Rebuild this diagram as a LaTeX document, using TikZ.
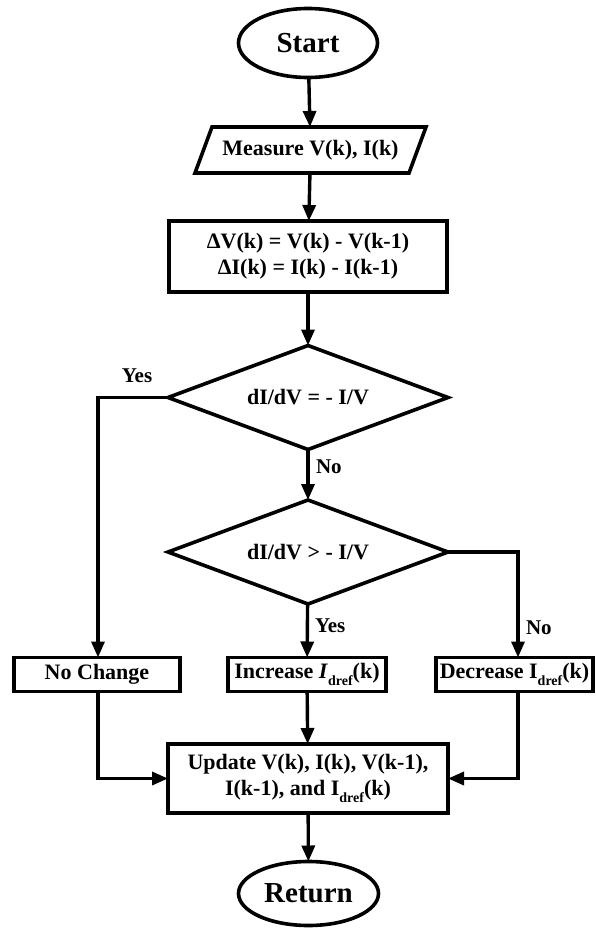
\documentclass[tikz,border=0pt]{standalone}
\usepackage{fontspec}
\setmainfont{Liberation Serif}
\usetikzlibrary{shapes.geometric,arrows.meta}
\newcommand{\dref}{\raisebox{-0.28em}{\fontsize{14}{14}\selectfont dref}}
\begin{document}
\begin{tikzpicture}[x=1pt,y=-1pt,
  every node/.style={font=\bfseries\fontsize{22}{26}\selectfont, inner sep=0pt, outer sep=0pt},
  ln/.style={line width=3.6pt},
  arr/.style={line width=3.4pt, -{Triangle[length=16pt,width=13pt]}},
  term/.style={ellipse, draw, line width=3.6pt, font=\bfseries\fontsize{29}{32}\selectfont},
  proc/.style={rectangle, draw, line width=3.6pt, align=center},
  dec/.style={diamond, draw, line width=3.6pt, aspect=2.7, minimum width=280pt, minimum height=104pt},
  lbl/.style={anchor=west}
]
\useasboundingbox (0,0) rectangle (595,928);

\node[term, minimum width=139pt, minimum height=69pt] (start) at (308,43) {Start};
\node[minimum width=214pt, minimum height=46pt] (meas) at (310.5,150) {Measure V(k), I(k)};
\draw[ln, line join=miter] ([xshift=8.5pt]meas.north west) -- ([xshift=8.5pt]meas.north east)
  -- ([xshift=-8.5pt]meas.south east) -- ([xshift=-8.5pt]meas.south west) -- cycle;
\node[proc, minimum width=278pt, minimum height=71pt] (delta) at (308,256.5) {ΔV(k) = V(k) - V(k-1)\\ΔI(k) = I(k) - I(k-1)};
\node[dec] (d1) at (308,397.5) {dI/dV = - I/V};
\node[dec] (d2) at (308,552) {dI/dV > - I/V};
\node[proc, minimum width=166pt, minimum height=34pt] (noch) at (97,674.5) {No Change};
\node[proc, minimum width=158pt, minimum height=34pt] (inc) at (307,674.5) {Increase \textit{I}\dref(k)};
\node[proc, minimum width=157pt, minimum height=34pt] (decr) at (514.5,674.5) {Decrease I\dref(k)};
\node[proc, minimum width=280pt, minimum height=69pt] (upd) at (308,778.5) {Update V(k), I(k), V(k-1),\\I(k-1), and I\dref(k)};
\node[term, minimum width=140pt, minimum height=64pt] (ret) at (308.5,893.5) {Return};

\draw[arr] (start) -- (meas);
\draw[arr] (meas) -- (delta);
\draw[arr] (delta) -- (d1);
\draw[arr] (d1) -- (d2);
\draw[arr] (d1.west) -| ([xshift=1pt]noch.north);
\draw[arr] (d2) -- (inc);
\draw[arr] (d2.east) -| ([xshift=3.5pt]decr.north);
\draw[arr] (inc) -- (upd);
\draw[arr] ([xshift=1pt]noch.south) |- (upd.west);
\draw[arr] ([xshift=3.5pt]decr.south) |- (upd.east);
\draw[arr] (upd) -- (ret);

\node[font=\bfseries\fontsize{21}{24}\selectfont] (yes1) at (137,376) {Yes};
\node[lbl, font=\bfseries\fontsize{21}{24}\selectfont] (no1) at (316,467) {No};
\node[lbl, font=\bfseries\fontsize{21}{24}\selectfont] (yes2) at (315,626) {Yes};
\node[lbl, font=\bfseries\fontsize{21}{24}\selectfont] (no2) at (526,628) {No};
\end{tikzpicture}
\end{document}
